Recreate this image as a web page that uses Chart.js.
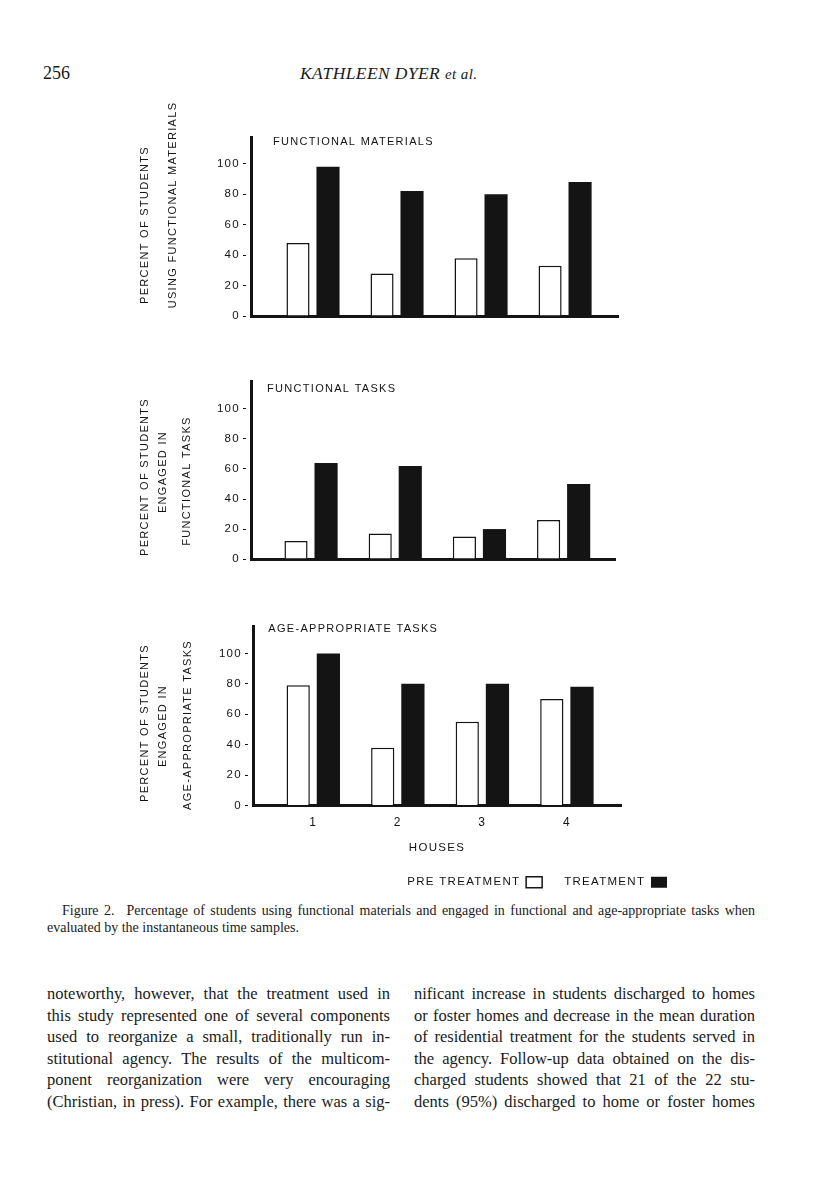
<!DOCTYPE html>
<html lang="en">
<head>
<meta charset="UTF-8">
<title>Figure 2</title>
<script src="https://cdn.jsdelivr.net/npm/chart.js"></script>
<style>
  body { margin: 0; background: #fff; }
  #page { position: relative; width: 816px; height: 1200px; overflow: hidden;
          font-family: 'Liberation Serif', 'DejaVu Serif', serif; color: #1a1a1a; background: #fff; }
  .abs { position: absolute; white-space: nowrap; }
  canvas { position: absolute; }
  .jl { text-align: justify; text-align-last: justify; white-space: normal; }
  .ll { text-align: left; }
  #caption { font-size: 14px; line-height: 16.5px; }
  .col { font-size: 16.5px; line-height: 21.6px; }
</style>
</head>
<body>
<div id="page">
  <div class="abs" style="left:43px; top:63px; font-size:18px; line-height:20px;">256</div>
  <div class="abs" style="left:300px; top:63px; font-size:17.5px; line-height:20px; font-style:italic; letter-spacing:0.4px;">KATHLEEN DYER <span style="font-size:15px;">et al.</span></div>

  <canvas id="c1" width="494" height="246" style="left:128px; top:80px;"></canvas>
  <canvas id="c2" width="491" height="199" style="left:128px; top:370px;"></canvas>
  <canvas id="c3" width="561" height="283" style="left:128px; top:615px;"></canvas>

  <div id="caption" class="abs" style="left:47px; top:903px; width:708px;">
    <div class="jl" style="padding-left:15px;"><span style="margin-right:12px;">Figure 2.</span>Percentage of students using functional materials and engaged in functional and age-appropriate tasks when</div>
    <div class="ll">evaluated by the instantaneous time samples.</div>
  </div>

  <div class="abs col" style="left:47px; top:983px; width:343px;">
    <div class="jl">noteworthy, however, that the treatment used in</div>
    <div class="jl">this study represented one of several components</div>
    <div class="jl">used to reorganize a small, traditionally run in-</div>
    <div class="jl">stitutional agency. The results of the multicom-</div>
    <div class="jl">ponent reorganization were very encouraging</div>
    <div class="jl">(Christian, in press). For example, there was a sig-</div>
  </div>
  <div class="abs col" style="left:414px; top:983px; width:341px;">
    <div class="jl">nificant increase in students discharged to homes</div>
    <div class="jl">or foster homes and decrease in the mean duration</div>
    <div class="jl">of residential treatment for the students served in</div>
    <div class="jl">the agency. Follow-up data obtained on the dis-</div>
    <div class="jl">charged students showed that 21 of the 22 stu-</div>
    <div class="jl">dents (95%) discharged to home or foster homes</div>
  </div>
</div>

<script>
// values (percent of students)
const houses = [1, 2, 3, 4];
const yTicks = [0, 20, 40, 60, 80, 100];
const seriesNames = ['PRE TREATMENT', 'TREATMENT'];

const materialsPre = [48, 28, 38, 33];
const materialsTreat = [98, 82, 80, 88];

const tasksPre = [12, 17, 15, 26];
const tasksTreat = [64, 62, 20, 50];

const agePre = [79, 38, 55, 70];
const ageTreat = [100, 80, 80, 78];

const ink = '#141414';
const sans = "'Liberation Sans', Arial, sans-serif";

// spaced-out lettering like the typeset figure
const spacing = {
    id: 'spacing',
    beforeUpdate(chart) { chart.ctx.letterSpacing = '1.3px'; },
    beforeDraw(chart) { chart.ctx.letterSpacing = '1.3px'; }
};

// panel heading sitting inside the plot, next to the y axis
const panelTitle = {
    id: 'panelTitle',
    afterDraw(chart, args, opts) {
        const { ctx, chartArea } = chart;
        ctx.save();
        ctx.font = '11px ' + sans;
        ctx.fillStyle = ink;
        ctx.textBaseline = 'middle';
        ctx.fillText(opts.text, chartArea.left + opts.dx, chartArea.top + opts.dy);
        ctx.restore();
    }
};

// rotated y-axis caption, one line at a time (the scale title squeezes long lines)
const sideTitle = {
    id: 'sideTitle',
    afterDraw(chart, args, opts) {
        const { ctx } = chart;
        opts.lines.forEach(l => {
            ctx.save();
            ctx.font = '11px ' + sans;
            ctx.fillStyle = ink;
            ctx.textAlign = 'center';
            ctx.textBaseline = 'middle';
            ctx.translate(l.x, l.y);
            ctx.rotate(-Math.PI / 2);
            ctx.fillText(l.text, 0, 0);
            ctx.restore();
        });
    }
};

function points(values) {
    return values.map((v, i) => ({ x: houses[i], y: v }));
}

function makeChart(id, pre, treat, cfg) {
    const scales = {
        x: {
            type: 'linear',
            min: cfg.xMin,
            max: cfg.xMax,
            offset: false,
            afterBuildTicks: s => { s.ticks = houses.map(v => ({ value: v })); },
            afterFit: s => { s.height = cfg.xHeight; },
            border: { display: true, width: 3, color: ink },
            grid: { display: false, drawTicks: false },
            ticks: { display: cfg.houses, padding: 10, color: ink, font: { family: sans, size: 12 } },
            title: {
                display: cfg.houses, text: 'HOUSES', color: ink,
                font: { family: sans, size: 11.5 }, padding: { top: 0, bottom: 0 }
            }
        },
        y: {
            min: 0,
            max: cfg.yMax,
            afterBuildTicks: s => { s.ticks = yTicks.map(v => ({ value: v })); },
            afterFit: s => { s.width = cfg.yWidth; },
            border: { display: true, width: 3, color: ink },
            grid: {
                display: true, drawOnChartArea: false, drawTicks: true,
                tickLength: 8, tickWidth: 1, tickColor: ink, tickBorderDash: [3, 20]
            },
            ticks: { padding: 3, color: ink, font: { family: sans, size: 11.5 } },
            title: { display: false }
        }
    };
    if (cfg.legend) {
        // empty strip on the right so the legend can run past the axis end
        scales.y2 = {
            position: 'right', display: true,
            grid: { display: false }, border: { display: false }, ticks: { display: false },
            afterFit: s => { s.width = cfg.rightGap; }
        };
    }

    return new Chart(document.getElementById(id), {
        type: 'bar',
        data: {
            datasets: [{
                label: seriesNames[0],
                data: points(pre),
                backgroundColor: '#ffffff',
                borderColor: ink,
                borderWidth: 1.5
            }, {
                label: seriesNames[1],
                data: points(treat),
                backgroundColor: ink,
                borderColor: ink,
                borderWidth: 0
            }]
        },
        options: {
            responsive: false,
            animation: false,
            events: [],
            categoryPercentage: 0.714,
            barPercentage: 0.77,
            layout: { padding: cfg.padding },
            scales: scales,
            plugins: {
                tooltip: { enabled: false },
                panelTitle: cfg.panel,
                sideTitle: { lines: cfg.yTitle },
                legend: {
                    display: !!cfg.legend,
                    position: 'bottom',
                    align: 'start',
                    rtl: true,
                    reverse: true,
                    labels: {
                        boxWidth: 16, boxHeight: 11, padding: 22, color: ink,
                        font: { family: sans, size: 11.5 }
                    }
                }
            }
        },
        plugins: [spacing, panelTitle, sideTitle]
    });
}

makeChart('c1', materialsPre, materialsTreat, {
    xMin: 0.262, xMax: 4.63, yMax: 117.5, xHeight: 8, yWidth: 123,
    yTitle: [
        { text: 'PERCENT OF STUDENTS', x: 17, y: 145 },
        { text: 'USING FUNCTIONAL MATERIALS', x: 45, y: 125 }
    ],
    panel: { text: 'FUNCTIONAL MATERIALS', dx: 22, dy: 5 },
    padding: { top: 57, right: 4, left: 0, bottom: 0 },
    houses: false, legend: false
});

makeChart('c2', tasksPre, tasksTreat, {
    xMin: 0.287, xMax: 4.61, yMax: 118.6, xHeight: 8, yWidth: 123,
    yTitle: [
        { text: 'PERCENT OF STUDENTS', x: 17, y: 107 },
        { text: 'ENGAGED IN', x: 35, y: 102 },
        { text: 'FUNCTIONAL TASKS', x: 59, y: 111 }
    ],
    panel: { text: 'FUNCTIONAL TASKS', dx: 16, dy: 7.6 },
    padding: { top: 11, right: 4, left: 0, bottom: 0 },
    houses: false, legend: false
});

makeChart('c3', agePre, ageTreat, {
    xMin: 0.287, xMax: 4.64, yMax: 118, xHeight: 49, yWidth: 125,
    yTitle: [
        { text: 'PERCENT OF STUDENTS', x: 17, y: 108 },
        { text: 'ENGAGED IN', x: 35, y: 111 },
        { text: 'AGE-APPROPRIATE TASKS', x: 60, y: 110 }
    ],
    panel: { text: 'AGE-APPROPRIATE TASKS', dx: 15.3, dy: 3 },
    padding: { top: 11, right: 0, left: 0, bottom: 0 },
    houses: true, legend: true, rightGap: 68
});
</script>
</body>
</html>
